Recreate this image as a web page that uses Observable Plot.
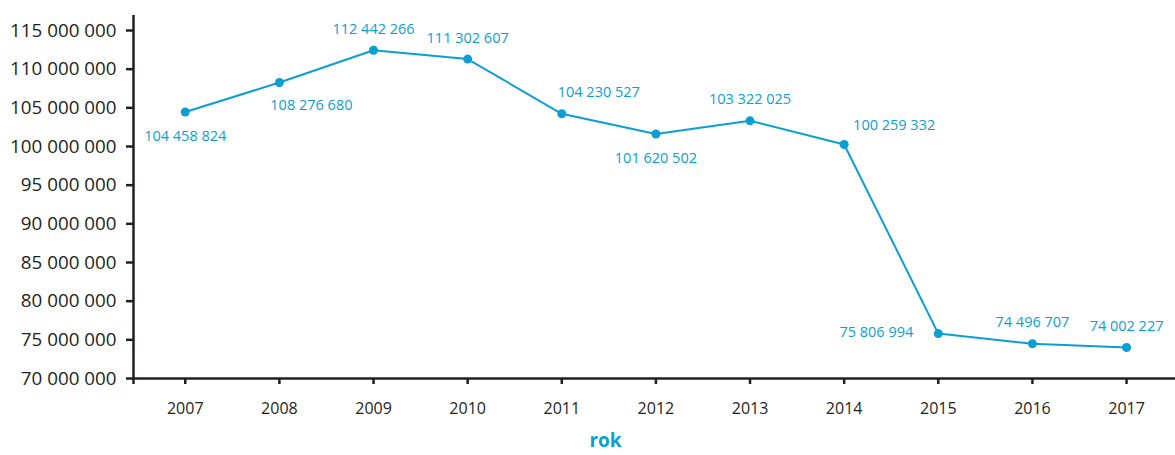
<!DOCTYPE html>
<html>
<head>
<meta charset="utf-8">
<script src="https://cdn.jsdelivr.net/npm/d3@7"></script>
<script src="https://cdn.jsdelivr.net/npm/@observablehq/plot@0.6"></script>
<style>
  html, body { margin: 0; padding: 0; background: #fff; }
  #chart svg { display: block; }
</style>
</head>
<body>
<div id="chart"></div>
<script>
const years = [2007, 2008, 2009, 2010, 2011, 2012, 2013, 2014, 2015, 2016, 2017];
const values = [104458824, 108276680, 112442266, 111302607, 104230527, 101620502, 103322025, 100259332, 75806994, 74496707, 74002227];
const yTicks = [70000000, 75000000, 80000000, 85000000, 90000000, 95000000, 100000000, 105000000, 110000000, 115000000];
const xLabel = "rok";

// label placement (style only)
const placement = ["below", "belowRight", "above", "above", "aboveRight", "below", "above", "aboveRight2", "left", "above", "above"];

const data = years.map((y, i) => ({year: y, value: values[i], place: placement[i]}));

const blue = "#0a9fd3";
const ink = "#231f20";
const fmt = v => d3.format(",")(v).replace(/,/g, " ");
const xDom = [2006.45, 2017.52];
const yDom = [70000000, 116940000];

const font = "'Open Sans', sans-serif";

const textMark = (place, opts) => Plot.text(data.filter(d => d.place === place), {
  x: "year", y: "value", text: d => fmt(d.value),
  fill: blue, fontSize: 14.5, fontFamily: font, ...opts
});

const chart = Plot.plot({
  width: 1175,
  height: 455,
  marginLeft: 133,
  marginRight: 0,
  marginTop: 15,
  marginBottom: 77,
  style: {fontFamily: font, background: "#fff"},
  x: {type: "linear", domain: xDom},
  y: {domain: yDom},
  marks: [
    Plot.axisY({ticks: yTicks, tickFormat: fmt, tickSize: 7, tickPadding: 10, fontSize: 18.8, color: ink, strokeWidth: 2.5, label: null}),
    Plot.axisX({ticks: [xDom[0], ...years], tickFormat: d => d === xDom[0] ? "" : String(d), tickSize: 6, tickPadding: 18, fontSize: 16, color: ink, strokeWidth: 2.5, label: null}),
    Plot.ruleX([xDom[0]], {y1: yDom[0], y2: yDom[1], stroke: ink, strokeWidth: 2.5}),
    Plot.ruleY([yDom[0]], {stroke: ink, strokeWidth: 2.5}),
    Plot.line(data, {x: "year", y: "value", stroke: blue, strokeWidth: 2}),
    Plot.dot(data, {x: "year", y: "value", fill: blue, r: 4.5}),
    textMark("below", {dy: 24}),
    textMark("belowRight", {dx: 32, dy: 23}),
    textMark("above", {dy: -21}),
    textMark("aboveRight", {dx: 37, dy: -21}),
    textMark("aboveRight2", {dx: 50, dy: -19}),
    textMark("left", {dx: -25, dy: -1, textAnchor: "end"}),
    Plot.text([xLabel], {frameAnchor: "bottom", lineAnchor: "middle", text: d => d, dx: -49, dy: 62, fill: blue, fontWeight: "bold", fontSize: 19, fontFamily: font})
  ]
});

document.getElementById("chart").appendChild(chart);
</script>
</body>
</html>
